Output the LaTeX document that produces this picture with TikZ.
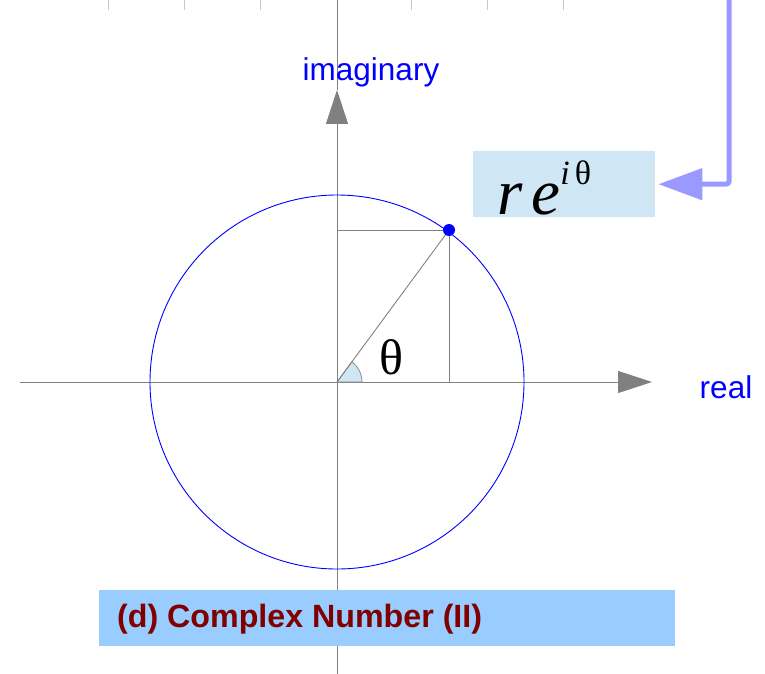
\documentclass[tikz,border=0pt]{standalone}
\usepackage{fontspec}
\setmainfont{Liberation Serif}
\setsansfont{Liberation Sans}
\usetikzlibrary{arrows.meta}
\definecolor{axisgray}{RGB}{128,128,128}
\definecolor{tickgray}{RGB}{200,200,200}
\definecolor{boxblue}{RGB}{207,230,244}
\definecolor{titleblue}{RGB}{153,204,255}
\definecolor{titlered}{RGB}{128,0,0}
\definecolor{arrowblue}{RGB}{153,153,255}
\definecolor{anglefill}{RGB}{207,230,244}
\begin{document}
\begin{tikzpicture}[x=1pt,y=-1pt,
  axis/.style={draw=axisgray, line width=1pt},
  tickline/.style={draw=tickgray, line width=1pt},
  guide/.style={draw=axisgray, line width=0.9pt},
  axlbl/.style={font=\sffamily\fontsize{31.5}{36}\selectfont, text=blue, inner sep=0pt},
  axhead/.style={-{Triangle[length=34pt,width=22pt,fill=axisgray]}}]
\useasboundingbox (0,0) rectangle (765,674);
% ticks
\foreach \tx [count=\i] in {108,184,260,411,487,563}{
  \coordinate (t\i a) at (\tx,0);
  \coordinate (t\i b) at (\tx,10);
  \draw[tickline] (t\i a) -- (t\i b);
}
% axes
\coordinate (O) at (337,382);
\coordinate (xs) at (20,382);
\coordinate (xe) at (652,382);
\coordinate (yt) at (337,0);
\coordinate (yh) at (337,90);
\coordinate (yb) at (337,674);
\draw[axis,axhead] (xs) -- (xe);
\draw[axis] (yt) -- (yh);
\draw[axis,axhead] (yb) -- (yh);
% circle
\draw[blue, line width=0.9pt] (O) circle[radius=187];
% angle
\filldraw[fill=anglefill, draw=axisgray, line width=0.7pt] (O) -- ++(25,0) arc[start angle=0, end angle=-53.6, radius=25] -- cycle;
% point and guides
\coordinate (P) at (449,230);
\draw[guide] (O) -- (P);
\draw[guide] (P) -- (P |- O);
\draw[guide] (P) -- (O |- P);
\fill[blue] (P) circle[radius=6];
% labels
\node[axlbl] (imag) at (371,72) {imaginary};
\node[axlbl] (real) at (726,387) {real};
\node[inner sep=0pt, font=\fontsize{50}{50}\selectfont] (theta) at (391,357) {θ};
% formula box
\node[fill=boxblue, minimum width=182pt, minimum height=66pt, inner sep=0pt, anchor=north west] (rebox) at (473,151) {};
\node[anchor=base west, inner sep=0pt] (retext) at (497,214) {{\fontsize{65}{65}\selectfont\itshape r\kern9pt e}\raisebox{30pt}{\fontsize{34}{34}\selectfont\itshape i\kern5pt\upshape θ}};
\coordinate (atop) at (729,0);
\draw[arrowblue, line width=5pt, rounded corners=3pt, -{Triangle[length=44pt,width=31pt]}] (atop) |- ([xshift=3pt]rebox.east);
% title
\node[fill=titleblue, minimum width=576pt, minimum height=56pt, inner sep=0pt, anchor=north west] (tbox) at (99,590) {};
\node[anchor=west, inner sep=0pt, text=titlered, font=\sffamily\bfseries\fontsize{32.2}{36}\selectfont] (title) at (117,619) {(d) Complex Number (II)};
\end{tikzpicture}
\end{document}
